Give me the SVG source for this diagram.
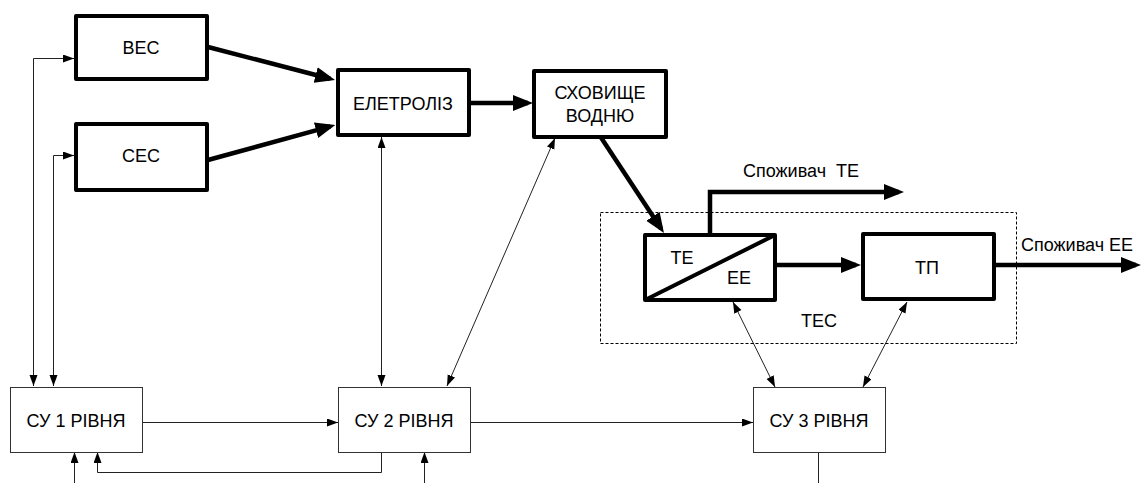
<svg xmlns="http://www.w3.org/2000/svg" width="1143" height="483" viewBox="0 0 1143 483">
<style>
text{font-family:"Liberation Sans",Arial,sans-serif;font-size:18px;fill:#000}
.c{text-anchor:middle}
.tb{fill:#fff;stroke:#000;stroke-width:4;stroke-linejoin:round}
.nb{fill:#fff;stroke:#333;stroke-width:1}
.tk{fill:none;stroke:#000;stroke-width:4.5;stroke-linejoin:miter}
.tn{fill:none;stroke:#222;stroke-width:1}
.ab{marker-end:url(#ah)}
.a2{marker-start:url(#ah);marker-end:url(#ah)}
.AB{marker-end:url(#AH)}
</style>
<defs>
<marker id="ah" markerUnits="userSpaceOnUse" markerWidth="12" markerHeight="10" refX="11" refY="4" orient="auto-start-reverse">
<path d="M0,0 L11,4 L0,8 z" fill="#000"/>
</marker>
<marker id="AH" markerUnits="userSpaceOnUse" markerWidth="22" markerHeight="18" refX="15" refY="8" orient="auto">
<path d="M0,0 L20,8 L0,16 z" fill="#000"/>
</marker>
</defs>

<g id="connectors">
<path class="tk AB" d="M208,47 L330.2,78.7"/>
<path class="tk AB" d="M208,160 L330.5,126.3"/>
<path class="tk AB" d="M470,103 H528"/>
<path class="tk AB" d="M600,136 L661.2,228.8"/>
<path class="tk AB" d="M776,265 H856"/>
<path class="tk AB" d="M710,234 V192 H899"/>
<path class="tk AB" d="M995,265 H1136"/>

<path class="tn a2" d="M33.5,386 V58.5 H74"/>
<path class="tn a2" d="M53.5,386 V155.5 H74"/>
<path class="tn a2" d="M381.5,386 V137"/>
<path class="tn a2" d="M447,386 L555,138"/>
<path class="tn a2" d="M775,387 L733,302"/>
<path class="tn a2" d="M863,387 L907,302"/>
<path class="tn ab" d="M142,422.5 H338"/>
<path class="tn ab" d="M470,422.5 H753"/>
<path class="tn ab" d="M74.5,483 V452"/>
<path class="tn ab" d="M381.5,452 V472.5 H97.5 V452"/>
<path class="tn ab" d="M424.5,483 V452"/>
<path class="tn" d="M818.5,452 V483"/>
</g>

<g id="tec-group">
<rect x="600.5" y="212.5" width="416" height="131" fill="none" stroke="#000" stroke-width="1" stroke-dasharray="3,2"/>
<text class="c" x="819" y="327">ТЕС</text>
</g>

<g id="node-ves">
<rect class="tb" x="76" y="16" width="131" height="63"/>
<text class="c" x="141" y="53.5">ВЕС</text>
</g>
<g id="node-ses">
<rect class="tb" x="76" y="124" width="131" height="66"/>
<text class="c" x="141" y="161.5">СЕС</text>
</g>
<g id="node-electrolysis">
<rect class="tb" x="338" y="70" width="131" height="65"/>
<text class="c" x="403" y="109.5">ЕЛЕТРОЛІЗ</text>
</g>
<g id="node-storage">
<rect class="tb" x="534" y="71" width="132" height="66"/>
<text class="c" x="600" y="98.5">СХОВИЩЕ</text>
<text class="c" x="600" y="121.5">ВОДНЮ</text>
</g>
<g id="node-te-ee">
<rect class="tb" x="645" y="235" width="130" height="65"/>
<path d="M645,300 L775,235" stroke="#000" stroke-width="4" fill="none"/>
<text class="c" x="682" y="263.5">ТЕ</text>
<text class="c" x="739" y="283.5">ЕЕ</text>
</g>
<g id="node-tp">
<rect class="tb" x="863" y="234" width="131" height="65"/>
<text class="c" x="927" y="273.5">ТП</text>
</g>
<g id="label-te">
<text x="743" y="177" xml:space="preserve" style="white-space:pre">Споживач  ТЕ</text>
</g>
<g id="label-ee">
<text x="1021" y="251">Споживач ЕЕ</text>
</g>
<g id="node-su1">
<rect class="nb" x="10.5" y="387.5" width="132" height="65"/>
<text class="c" x="76" y="426.5">СУ 1 РІВНЯ</text>
</g>
<g id="node-su2">
<rect class="nb" x="338.5" y="387.5" width="132" height="65"/>
<text class="c" x="404" y="426.5">СУ 2 РІВНЯ</text>
</g>
<g id="node-su3">
<rect class="nb" x="753.5" y="387.5" width="132" height="65"/>
<text class="c" x="819" y="426.5">СУ 3 РІВНЯ</text>
</g>
</svg>
